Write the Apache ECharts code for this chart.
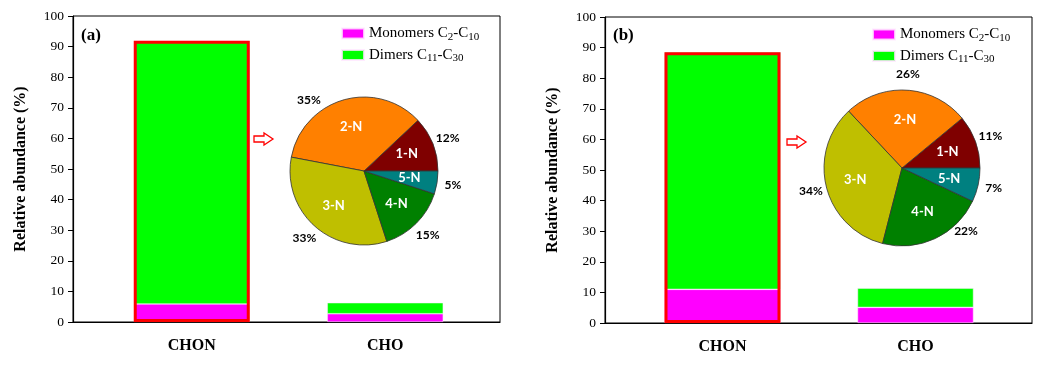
<!DOCTYPE html>
<html>
<head>
<meta charset="utf-8">
<script src="https://cdn.jsdelivr.net/npm/echarts@6/dist/echarts.min.js"></script>
<style>
  html, body { margin: 0; padding: 0; background: #fff; }
  #chart { width: 1045px; height: 365px; }
</style>
</head>
<body>
<div id="chart"></div>
<script>
// data
const categories = ['CHON', 'CHO'];
const monomersA = [5.9, 2.7];
const dimersA = [86.0, 3.6];
const monomersB = [11.0, 5.1];
const dimersB = [77.5, 6.3];
const pieNames = ['1-N', '2-N', '3-N', '4-N', '5-N'];
const pieA = [12, 35, 33, 15, 5];
const pieB = [11, 26, 34, 22, 7];
const seriesNames = ['Monomers C2-C10', 'Dimers C11-C30'];

const serif = '"Liberation Serif", "Times New Roman", serif';
const sans = 'Lato, "Open Sans", sans-serif';
const pieColors = ['#7f0000', '#ff8000', '#bfbf00', '#008000', '#008080'];
// the original had a couple of percent labels dragged by hand
const nudgeA = { '2-N': [-30, 16] };
const nudgeB = { '4-N': [24, -22] };

const chart = echarts.init(document.getElementById('chart'));

// one panel = frame grid (axes box) + bar grid (bars, category labels)
function panel(i, frame, bars, mono, dim, pieVals, pie, nudge, lg, tag) {
  const grids = [
    { left: frame.left, top: frame.top, width: frame.width, height: frame.height,
      show: true, borderColor: '#000', borderWidth: 1 },
    { left: bars.left, top: frame.top, width: bars.width, height: frame.height }
  ];
  const xAxes = [
    { gridIndex: 2 * i, type: 'value', min: 0, max: 1,
      axisLine: { show: true, onZero: false, lineStyle: { color: '#000', width: 1.2 } },
      axisTick: { show: false }, axisLabel: { show: false }, splitLine: { show: false } },
    { gridIndex: 2 * i + 1, type: 'category', data: categories,
      axisLine: { show: false }, axisTick: { show: false },
      axisLabel: { margin: 16, fontFamily: serif, fontWeight: 'bold', fontSize: 16, color: '#000' } }
  ];
  const yAxes = [
    { gridIndex: 2 * i, type: 'value', min: 0, max: 100, interval: 10,
      name: 'Relative abundance (%)', nameLocation: 'middle', nameGap: 44,
      nameTextStyle: { fontFamily: serif, fontWeight: 'bold', fontSize: 16, color: '#000' },
      axisLine: { show: true, lineStyle: { color: '#000', width: 1.2 } },
      axisTick: { show: true, length: 5, lineStyle: { color: '#000' } },
      axisLabel: { margin: 9, fontFamily: serif, fontSize: 13.5, color: '#000' },
      splitLine: { show: false } },
    { gridIndex: 2 * i + 1, type: 'value', min: 0, max: 100, show: false }
  ];
  const barStyle = { borderColor: 'rgba(255,230,255,0.8)', borderWidth: 0.6 };
  const series = [
    { name: seriesNames[0], type: 'bar', stack: 's' + i, xAxisIndex: 2 * i + 1, yAxisIndex: 2 * i + 1,
      barWidth: 116, data: mono, itemStyle: Object.assign({ color: '#ff00ff' }, barStyle) },
    { name: seriesNames[1], type: 'bar', stack: 's' + i, xAxisIndex: 2 * i + 1, yAxisIndex: 2 * i + 1,
      barWidth: 116, data: dim, itemStyle: Object.assign({ color: '#00ff00' }, barStyle) },
    // red outline around the CHON stack
    { name: 'outline' + i, type: 'bar', xAxisIndex: 2 * i + 1, yAxisIndex: 2 * i + 1,
      barWidth: 116, barGap: '-100%', z: 5, silent: true,
      data: [mono[0] + dim[0], '-'],
      itemStyle: { color: 'rgba(0,0,0,0)', borderColor: '#ff0000', borderWidth: 3 } },
    // pie slices
    { type: 'pie', center: pie.center, radius: pie.r, startAngle: 0, clockwise: false,
      silent: true, avoidLabelOverlap: false,
      data: pieNames.map((n, k) => ({ name: n, value: pieVals[k], itemStyle: { color: pieColors[k] } })),
      itemStyle: { borderColor: '#333', borderWidth: 0.8 },
      label: { show: false }, labelLine: { show: false } },
    // names inside (transparent ring, label sits mid-ring)
    { type: 'pie', center: pie.center, radius: [pie.r * 0.16, pie.r], startAngle: 0, clockwise: false,
      silent: true, avoidLabelOverlap: false, z: 3,
      data: pieNames.map((n, k) => ({ name: n, value: pieVals[k] })),
      itemStyle: { color: 'rgba(0,0,0,0)', borderWidth: 0 },
      label: { show: true, position: 'inside', formatter: '{b}', color: '#fff',
        fontFamily: sans, fontWeight: 'bold', fontSize: 13 },
      labelLine: { show: false } },
    // percentages outside (transparent outer ring, centred labels)
    { type: 'pie', center: pie.center, radius: [pie.r, pie.r + 26], startAngle: 0, clockwise: false,
      silent: true, avoidLabelOverlap: false, z: 3,
      data: pieNames.map((n, k) => nudge[n]
        ? { name: n, value: pieVals[k], label: { offset: nudge[n] } }
        : { name: n, value: pieVals[k] }),
      itemStyle: { color: 'rgba(0,0,0,0)', borderWidth: 0 },
      label: { show: true, position: 'inside', formatter: '{c}%', color: '#000',
        fontFamily: sans, fontWeight: 'bold', fontSize: 12 },
      labelLine: { show: false } }
  ];
  const legend = {
    orient: 'vertical', left: lg.left, top: lg.top, padding: 0, itemGap: 5,
    icon: 'rect', itemWidth: 22, itemHeight: 10, selectedMode: false,
    data: seriesNames,
    formatter: n => n.replace(/C(\d+)/g, 'C{s|$1}'),
    textStyle: { fontFamily: serif, fontSize: 15, color: '#000',
      rich: { s: { fontFamily: serif, fontSize: 11, color: '#000', padding: [7, 0, 0, 0] } } }
  };
  const title = { text: tag, left: frame.left + 8, top: 27, padding: 0,
    textStyle: { fontFamily: serif, fontWeight: 'bold', fontSize: 17, color: '#000' } };
  return { grids, xAxes, yAxes, series, legend, title };
}

const pA = panel(0, { left: 73, top: 16, width: 427, height: 306 }, { left: 95, width: 387 },
  monomersA, dimersA, pieA, { center: [364, 171], r: 74 }, nudgeA, { left: 341, top: 26 }, '(a)');
const pB = panel(1, { left: 605, top: 17, width: 427, height: 306 }, { left: 626, width: 386 },
  monomersB, dimersB, pieB, { center: [902, 168], r: 78 }, nudgeB, { left: 872, top: 27 }, '(b)');

function arrow(x, y) {
  return { type: 'polygon', x: x, y: y, z: 10,
    shape: { points: [[0, 3], [10, 3], [10, 0], [19, 6], [10, 12], [10, 9], [0, 9]] },
    style: { fill: '#fff', stroke: '#ff0000', lineWidth: 1.3 } };
}

chart.setOption({
  animation: false,
  backgroundColor: '#fff',
  title: [pA.title, pB.title],
  legend: [pA.legend, pB.legend],
  grid: [...pA.grids, ...pB.grids],
  xAxis: [...pA.xAxes, ...pB.xAxes],
  yAxis: [...pA.yAxes, ...pB.yAxes],
  series: [...pA.series, ...pB.series],
  graphic: [arrow(254, 133), arrow(787, 136)]
});
window.addEventListener('resize', () => chart.resize());
</script>
</body>
</html>
